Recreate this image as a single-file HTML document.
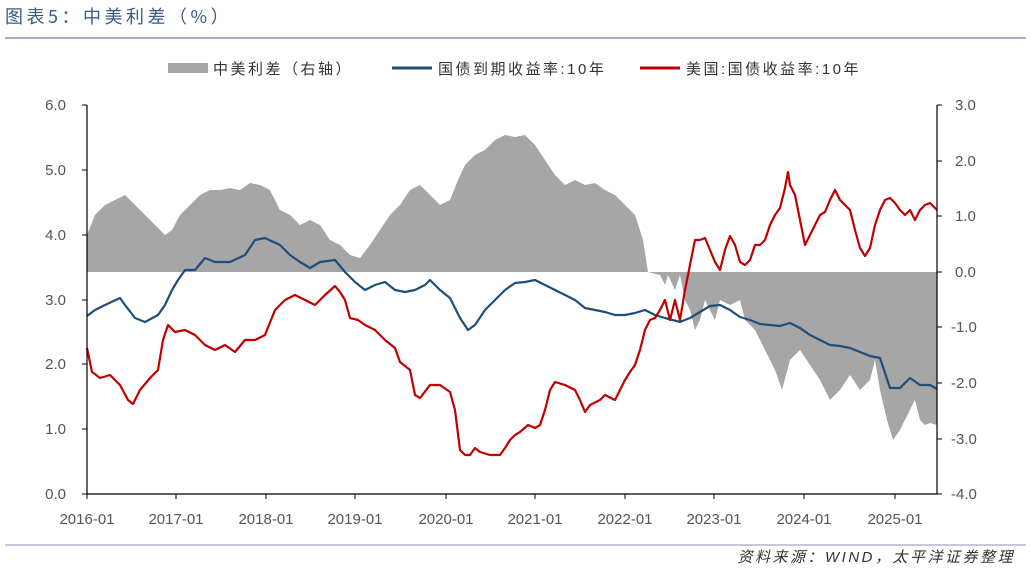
<!DOCTYPE html>
<html><head><meta charset="utf-8"><style>
body{margin:0;background:#fff;width:1031px;height:571px;overflow:hidden;font-family:"Liberation Sans","Noto Sans CJK SC",sans-serif}
</style></head><body>
<svg width="1031" height="571" xmlns="http://www.w3.org/2000/svg" font-family="Liberation Sans, Noto Sans CJK SC, sans-serif">
<text x="5" y="23" font-size="18" fill="#3b5a8a" font-family="Noto Sans CJK SC, sans-serif" letter-spacing="3.5">图表5：中美利差（%）</text>
<line x1="5" y1="38" x2="1026" y2="38" stroke="#8c8cb8" stroke-width="1.5"/>
<line x1="5" y1="545" x2="1026" y2="545" stroke="#8c8cb8" stroke-width="1"/>
<text x="1015" y="562" font-size="15" fill="#333" text-anchor="end" font-style="italic" letter-spacing="2.5">资料来源：WIND，太平洋证券整理</text>
<!-- legend -->
<rect x="168" y="63" width="40" height="10" fill="#a6a6a6"/>
<text x="213" y="74" font-size="15" fill="#333" letter-spacing="2.5">中美利差（右轴）</text>
<line x1="392" y1="68" x2="432" y2="68" stroke="#1f4e79" stroke-width="3"/>
<text x="438" y="74" font-size="15" fill="#333" letter-spacing="2.5">国债到期收益率:10年</text>
<line x1="640" y1="68" x2="680" y2="68" stroke="#c00000" stroke-width="3"/>
<text x="686" y="74" font-size="15" fill="#333" letter-spacing="2.5">美国:国债收益率:10年</text>
<!-- spread area -->
<polygon fill="#a6a6a6" points="87,272 87,235 95,215 105,205 115,200 125,195 135,205 145,215 155,225 165,235 172,230 180,215 190,205 200,195 210,190 220,190 230,188 240,190 250,183 260,185 270,190 280,210 290,215 300,225 310,220 320,225 330,240 340,245 350,255 360,258 370,245 380,230 390,215 400,205 410,190 420,185 430,195 440,205 450,200 458,180 465,165 475,155 485,150 495,140 505,135 515,137 525,135 535,145 545,160 555,175 565,185 575,180 585,185 595,183 605,190 615,195 625,205 635,215 643,240 648,272 660,275 665,285 668,275 675,290 680,275 685,300 690,310 695,330 700,320 705,300 710,310 715,320 720,300 730,305 740,300 745,320 755,330 765,350 775,370 782,390 790,360 800,350 810,365 820,380 830,400 840,390 850,375 860,390 870,380 875,360 880,390 887,420 893,440 900,430 910,410 915,400 920,420 925,425 930,423 937,425 937,272"/>
<!-- blue -->
<polyline fill="none" stroke="#1f4e79" stroke-width="2.2" stroke-linejoin="round" points="87,316 95,310 105,305 120,298 125,305 135,318 145,322 158,315 165,305 172,290 178,280 185,270 195,270 205,258 215,262 230,262 245,255 255,240 265,238 280,245 290,255 300,262 310,268 320,262 335,260 345,272 355,282 365,290 375,285 385,282 395,290 405,292 415,290 425,285 430,280 440,290 450,298 460,318 468,330 475,325 485,310 495,300 505,290 515,283 525,282 535,280 545,285 555,290 565,295 575,300 585,308 595,310 605,312 615,315 625,315 635,313 645,310 655,315 665,318 680,322 690,318 700,312 710,306 720,305 730,310 740,317 750,320 760,324 770,325 780,326 790,323 800,328 810,335 820,340 830,345 840,346 850,348 860,352 870,356 880,358 890,388 900,388 910,378 920,385 930,385 937,389"/>
<!-- red -->
<polyline fill="none" stroke="#c00000" stroke-width="2.2" stroke-linejoin="round" points="87,348 92,372 100,378 110,375 120,385 128,400 133,404 140,390 150,378 158,370 163,340 168,325 175,332 185,330 195,335 205,345 215,350 225,345 235,352 245,340 255,340 265,335 275,310 285,300 295,295 305,300 315,305 325,295 335,286 340,292 345,300 350,318 358,320 365,325 375,330 385,340 395,348 400,362 410,370 415,395 420,398 430,385 440,385 450,392 455,410 460,450 465,455 470,455 475,448 480,452 490,455 500,455 505,448 510,440 515,435 520,432 528,425 535,428 540,425 545,410 550,390 555,382 565,385 575,390 580,400 585,412 590,405 600,400 605,395 615,400 620,390 625,380 630,372 635,365 640,350 645,330 650,320 655,318 660,310 665,300 670,320 675,300 680,320 685,290 690,265 695,240 700,240 705,238 710,250 715,262 720,270 725,250 730,236 735,245 740,262 745,265 750,260 755,245 760,245 765,240 770,225 775,215 780,208 785,188 788,172 790,185 795,195 800,220 805,245 810,235 815,225 820,215 825,212 830,200 835,190 840,200 845,205 850,210 855,230 860,248 865,256 870,248 875,225 880,210 885,200 890,198 895,203 900,210 905,215 910,210 915,220 920,210 925,205 930,203 937,210"/>
<!-- axes -->
<g stroke="#000" stroke-width="1.2">
<line x1="87" y1="105" x2="87" y2="494"/>
<line x1="937" y1="105" x2="937" y2="494"/>
<line x1="87" y1="494" x2="937" y2="494"/>
</g>
<g stroke="#000" stroke-width="1">
<line x1="82" y1="105" x2="87" y2="105"/><line x1="82" y1="170" x2="87" y2="170"/><line x1="82" y1="235" x2="87" y2="235"/><line x1="82" y1="300" x2="87" y2="300"/><line x1="82" y1="364" x2="87" y2="364"/><line x1="82" y1="429" x2="87" y2="429"/><line x1="82" y1="494" x2="87" y2="494"/>
<line x1="937" y1="105" x2="942" y2="105"/><line x1="937" y1="161" x2="942" y2="161"/><line x1="937" y1="216" x2="942" y2="216"/><line x1="937" y1="272" x2="942" y2="272"/><line x1="937" y1="327" x2="942" y2="327"/><line x1="937" y1="383" x2="942" y2="383"/><line x1="937" y1="439" x2="942" y2="439"/><line x1="937" y1="494" x2="942" y2="494"/>
<line x1="87" y1="494" x2="87" y2="499"/><line x1="176" y1="494" x2="176" y2="499"/><line x1="266" y1="494" x2="266" y2="499"/><line x1="355" y1="494" x2="355" y2="499"/><line x1="446" y1="494" x2="446" y2="499"/><line x1="535" y1="494" x2="535" y2="499"/><line x1="625" y1="494" x2="625" y2="499"/><line x1="714" y1="494" x2="714" y2="499"/><line x1="804" y1="494" x2="804" y2="499"/><line x1="895" y1="494" x2="895" y2="499"/>
</g>
<g font-size="15" fill="#555" text-anchor="end">
<text x="66" y="110">6.0</text><text x="66" y="175">5.0</text><text x="66" y="240">4.0</text><text x="66" y="305">3.0</text><text x="66" y="369">2.0</text><text x="66" y="434">1.0</text><text x="66" y="499">0.0</text>
</g>
<g font-size="15" fill="#555">
<text x="955" y="110">3.0</text><text x="955" y="166">2.0</text><text x="955" y="221">1.0</text><text x="955" y="277">0.0</text><text x="951" y="332">-1.0</text><text x="951" y="388">-2.0</text><text x="951" y="444">-3.0</text><text x="951" y="499">-4.0</text>
</g>
<g font-size="15" fill="#555" text-anchor="middle">
<text x="87" y="524">2016-01</text><text x="176" y="524">2017-01</text><text x="266" y="524">2018-01</text><text x="355" y="524">2019-01</text><text x="446" y="524">2020-01</text><text x="535" y="524">2021-01</text><text x="625" y="524">2022-01</text><text x="714" y="524">2023-01</text><text x="804" y="524">2024-01</text><text x="895" y="524">2025-01</text>
</g>
</svg>
</body></html>
